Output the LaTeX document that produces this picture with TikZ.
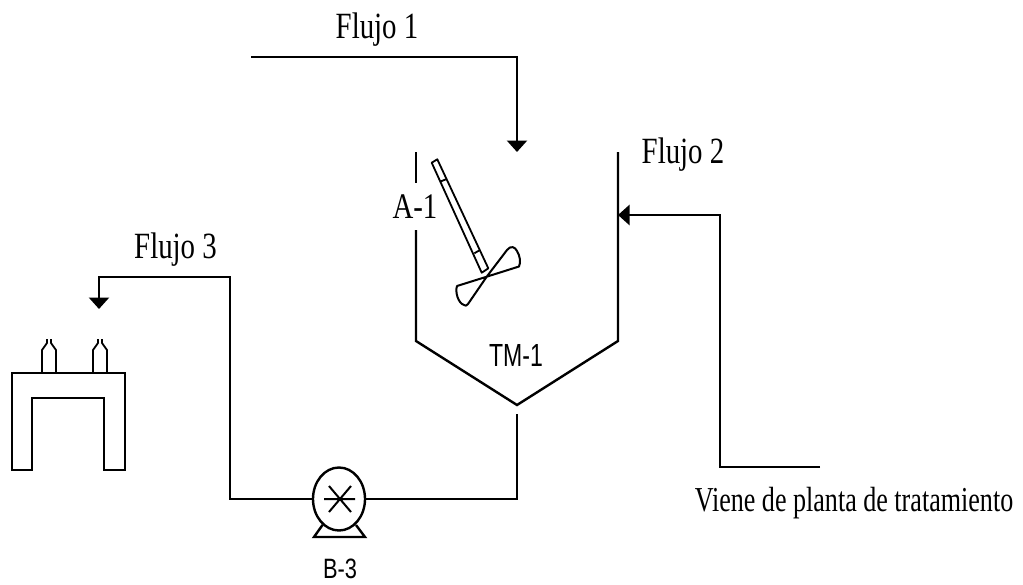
\documentclass[tikz,border=0pt]{standalone}
\usepackage{fontspec}
\setmainfont{Liberation Serif}
\newfontfamily\serifflow[FakeStretch=0.78]{Liberation Serif}
\newfontfamily\serifnote[FakeStretch=0.745]{Liberation Serif}
\newfontfamily\serifagit[FakeStretch=0.8]{Liberation Serif}
\newfontfamily\sansnarrow[FakeStretch=0.72]{Liberation Sans}
\newfontfamily\sansb[FakeStretch=0.78]{Liberation Sans}
\usetikzlibrary{arrows.meta,shapes.geometric}
\tikzset{
  pipe/.style={line width=2.4pt,line join=miter},
  flow/.style={pipe,-{Triangle[length=11.5pt,width=20pt]}},
  thin part/.style={line width=1.8pt,line join=round},
  lab/.style={inner sep=0pt,anchor=base},
  flowlabel/.style={lab,font=\serifflow\fontsize{37}{37}\selectfont},
}
\begin{document}
\begin{tikzpicture}[x=1pt,y=-1pt]
\useasboundingbox (0,0) rectangle (1023,584);
% labels
\node[flowlabel] (f1) at (377,38) {Flujo 1};
\node[flowlabel] (f2) at (683,163) {Flujo 2};
\node[flowlabel] (f3) at (175.5,258) {Flujo 3};
\node[lab,font=\serifagit\fontsize{36}{36}\selectfont] (a1) at (415,218) {A-1};
\node[lab,font=\serifnote\fontsize{35}{35}\selectfont] (viene) at (854,511) {Viene de planta de tratamiento};
\node[lab,font=\sansnarrow\fontsize{32}{32}\selectfont] (tm) at (516,366) {TM-1};
\node[lab,font=\sansb\fontsize{28}{28}\selectfont] (b3) at (340,578) {B-3};
% flow 1
\coordinate (f1s) at (251,57);
\coordinate (f1c) at (517,57);
\coordinate (f1e) at (517,152);
\draw[flow] (f1s) -- (f1c) -- (f1e);
% flow 2
\coordinate (f2s) at (820,467);
\coordinate (f2a) at (720,467);
\coordinate (f2b) at (720,215);
\coordinate (f2e) at (618,215);
\draw[flow] (f2s) -- (f2a) -- (f2b) -- (f2e);
% tank
\coordinate (tl0) at (416,152);
\coordinate (tl1) at (416,183);
\coordinate (tl2) at (416,230);
\coordinate (tl3) at (416,341);
\coordinate (tb) at (517,405);
\coordinate (tr1) at (618,341);
\coordinate (tr0) at (618,152);
\draw[pipe] (tl0) -- (tl1);
\draw[pipe] (tl2) -- (tl3) -- (tb) -- (tr1) -- (tr0);
% pump
\node[draw,line width=2.4pt,ellipse,minimum width=52pt,minimum height=63pt,inner sep=0pt] (pump) at (339,499) {};
\coordinate (bl) at (314,537);
\coordinate (br) at (365,537);
\draw[pipe] (322.5,525) -- (bl) -- (br) -- (356,525);
\draw[thin part,line width=2pt] (324,499) -- (355,499) (329,486) -- (351,512) (351,486) -- (329,512);
% pipes
\coordinate (o0) at (517,414);
\coordinate (o1) at (517,499);
\draw[pipe] (o0) -- (o1) -- (pump.east);
\coordinate (p1) at (230,499);
\coordinate (p2) at (230,277);
\coordinate (p3) at (99,277);
\coordinate (p4) at (99,309);
\draw[flow] (pump.west) -- (p1) -- (p2) -- (p3) -- (p4);
% agitator
\draw[thin part] (431.7,162.7) -- (437.3,159.3) -- (488.3,268.3) -- (481.7,272.7) -- cycle;
\draw[thin part] (440,181.7) -- (446,179.3) (474.3,253.3) -- (480,250);
\draw[line width=2pt,line join=round] (486.7,276.7) -- (507,250) .. controls (511,245) and (515,247) .. (517,251) .. controls (520,256) and (521,262) .. (519,266.5) -- (486.7,276.7)
  -- (457,286) .. controls (455,292) and (458,303) .. (464,305) .. controls (466,306) .. (468,304) -- cycle;
% gun
\draw[pipe] (12,470) -- (12,373) -- (125,373) -- (125,470) -- (104,470) -- (104,398) -- (32,398) -- (32,470) -- cycle;
\foreach \c in {49,100}{
  \draw[thin part] (\c-7,373) -- (\c-7,350) -- (\c-2,343) -- (\c-2,339);
  \draw[thin part] (\c+7,373) -- (\c+7,350) -- (\c+2,343) -- (\c+2,339);
}
\end{tikzpicture}
\end{document}
